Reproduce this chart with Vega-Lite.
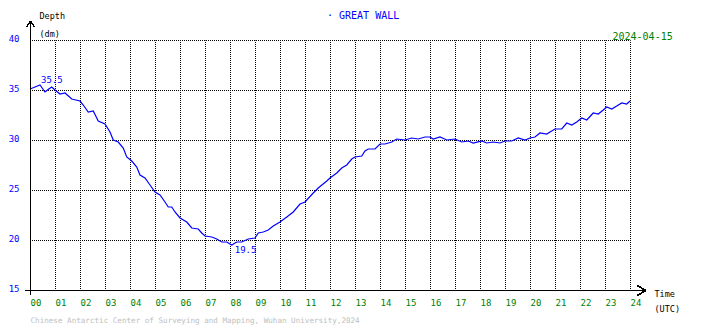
{
  "$schema": "https://vega.github.io/schema/vega-lite/v6.json",
  "width": 600,
  "height": 250,
  "autosize": {"type": "none"},
  "padding": {"left": 30, "top": 40, "right": 80, "bottom": 38},
  "background": "white",
  "config": {
    "view": {"stroke": null},
    "font": "DejaVu Sans Mono",
    "axis": {"labelFont": "DejaVu Sans Mono", "titleFont": "DejaVu Sans Mono"},
    "text": {"font": "DejaVu Sans Mono"}
  },
  "title": {
    "text": "· GREAT WALL",
    "anchor": "start",
    "frame": "group",
    "dx": 297,
    "offset": -10,
    "fontSize": 10,
    "fontWeight": "normal",
    "color": "#0000ff",
    "font": "DejaVu Sans Mono"
  },
  "data": {
    "values": [
      {"h": 0.0, "v": 35.1}, {"h": 0.2, "v": 35.3}, {"h": 0.4, "v": 35.5}, {"h": 0.6, "v": 34.8},
      {"h": 0.75, "v": 35.1}, {"h": 0.87, "v": 35.3}, {"h": 1.0, "v": 35.0}, {"h": 1.2, "v": 34.6},
      {"h": 1.4, "v": 34.7}, {"h": 1.67, "v": 34.1}, {"h": 2.0, "v": 33.9}, {"h": 2.13, "v": 33.5},
      {"h": 2.33, "v": 32.8}, {"h": 2.53, "v": 32.9}, {"h": 2.73, "v": 31.9}, {"h": 3.0, "v": 31.6},
      {"h": 3.2, "v": 30.8}, {"h": 3.33, "v": 30.0}, {"h": 3.53, "v": 29.8}, {"h": 3.73, "v": 29.2},
      {"h": 3.87, "v": 28.3}, {"h": 4.07, "v": 27.9}, {"h": 4.27, "v": 27.3}, {"h": 4.4, "v": 26.5},
      {"h": 4.6, "v": 26.2}, {"h": 4.8, "v": 25.5}, {"h": 5.0, "v": 24.8}, {"h": 5.2, "v": 24.5},
      {"h": 5.4, "v": 23.8}, {"h": 5.53, "v": 23.3}, {"h": 5.67, "v": 23.3}, {"h": 5.8, "v": 22.8},
      {"h": 6.0, "v": 22.2}, {"h": 6.27, "v": 21.8}, {"h": 6.47, "v": 21.2}, {"h": 6.73, "v": 21.1},
      {"h": 6.87, "v": 20.7}, {"h": 7.0, "v": 20.4}, {"h": 7.27, "v": 20.3}, {"h": 7.47, "v": 20.1},
      {"h": 7.67, "v": 19.8}, {"h": 7.87, "v": 19.8}, {"h": 8.07, "v": 19.5}, {"h": 8.27, "v": 19.8},
      {"h": 8.47, "v": 19.8}, {"h": 8.73, "v": 20.1}, {"h": 9.0, "v": 20.2}, {"h": 9.13, "v": 20.7},
      {"h": 9.33, "v": 20.8}, {"h": 9.53, "v": 21.0}, {"h": 9.73, "v": 21.4}, {"h": 10.0, "v": 21.8},
      {"h": 10.27, "v": 22.3}, {"h": 10.53, "v": 22.8}, {"h": 10.8, "v": 23.6}, {"h": 11.0, "v": 23.8},
      {"h": 11.33, "v": 24.7}, {"h": 11.53, "v": 25.2}, {"h": 11.87, "v": 25.9}, {"h": 12.0, "v": 26.2},
      {"h": 12.27, "v": 26.7}, {"h": 12.47, "v": 27.2}, {"h": 12.67, "v": 27.5}, {"h": 12.87, "v": 28.1},
      {"h": 13.0, "v": 28.3}, {"h": 13.27, "v": 28.4}, {"h": 13.4, "v": 28.9}, {"h": 13.53, "v": 29.1},
      {"h": 13.8, "v": 29.1}, {"h": 14.0, "v": 29.6}, {"h": 14.2, "v": 29.6}, {"h": 14.47, "v": 29.8},
      {"h": 14.67, "v": 30.1}, {"h": 15.0, "v": 30.0}, {"h": 15.27, "v": 30.2}, {"h": 15.53, "v": 30.1},
      {"h": 15.8, "v": 30.3}, {"h": 16.0, "v": 30.3}, {"h": 16.13, "v": 30.1}, {"h": 16.4, "v": 30.3},
      {"h": 16.67, "v": 30.0}, {"h": 17.0, "v": 30.1}, {"h": 17.27, "v": 29.8}, {"h": 17.53, "v": 29.9},
      {"h": 17.73, "v": 29.7}, {"h": 18.07, "v": 29.9}, {"h": 18.27, "v": 29.7}, {"h": 18.53, "v": 29.8},
      {"h": 18.8, "v": 29.7}, {"h": 19.0, "v": 29.9}, {"h": 19.27, "v": 29.9}, {"h": 19.53, "v": 30.2},
      {"h": 19.8, "v": 30.0}, {"h": 20.0, "v": 30.2}, {"h": 20.2, "v": 30.3}, {"h": 20.4, "v": 30.7},
      {"h": 20.67, "v": 30.6}, {"h": 20.8, "v": 30.8}, {"h": 21.0, "v": 31.1}, {"h": 21.27, "v": 31.1},
      {"h": 21.47, "v": 31.7}, {"h": 21.67, "v": 31.5}, {"h": 21.87, "v": 31.8}, {"h": 22.07, "v": 32.2},
      {"h": 22.27, "v": 32.0}, {"h": 22.53, "v": 32.7}, {"h": 22.73, "v": 32.6}, {"h": 22.93, "v": 33.0},
      {"h": 23.07, "v": 33.3}, {"h": 23.27, "v": 33.1}, {"h": 23.47, "v": 33.4}, {"h": 23.67, "v": 33.7},
      {"h": 23.87, "v": 33.6}, {"h": 24.0, "v": 33.9}
    ]
  },
  "resolve": {"axis": {"x": "independent", "y": "independent"}},
  "layer": [
    {
      "mark": {"type": "line", "color": "#0000ff", "strokeWidth": 1.2},
      "encoding": {
        "x": {
          "field": "h", "type": "quantitative",
          "scale": {"domain": [0, 24], "nice": false, "zero": false},
          "axis": {
            "orient": "bottom",
            "values": [0,1,2,3,4,5,6,7,8,9,10,11,12,13,14,15,16,17,18,19,20,21,22,23,24],
            "grid": true, "gridColor": "black", "gridDash": [1, 1], "gridDashOffset": 0.5, "gridWidth": 1, "gridOpacity": 1,
            "domain": false, "ticks": false,
            "labelColor": "#008000", "labelFontSize": 9, "labelAlign": "left", "labelBaseline": "top",
            "labelPadding": 8, "labelFlush": false, "labelOverlap": false,
            "labelExpr": "datum.value < 10 ? '0' + datum.value : '' + datum.value",
            "title": ["Time", "(UTC)"], "titleX": 624, "titleY": -1, "titleAlign": "left",
            "titleBaseline": "top", "titleAngle": 0, "titleFontSize": 8.5, "titleFontWeight": "normal",
            "titleColor": "black", "titleLineHeight": 15
          }
        },
        "y": {
          "field": "v", "type": "quantitative",
          "scale": {"domain": [15, 40], "nice": false, "zero": false},
          "axis": {
            "orient": "left",
            "values": [15, 20, 25, 30, 35, 40],
            "grid": true, "gridColor": "black", "gridDash": [1, 1], "gridDashOffset": 0.5, "gridWidth": 1, "gridOpacity": 1,
            "domain": false, "ticks": false,
            "labelColor": "#0000ff", "labelFontSize": 9, "labelPadding": 11, "labelBaseline": "alphabetic",
            "labelOffset": 1, "labelFlush": false, "labelOverlap": false,
            "title": ["Depth", "(dm)"], "titleX": 9, "titleY": -29, "titleAlign": "left",
            "titleBaseline": "top", "titleAngle": 0, "titleFontSize": 8.5, "titleFontWeight": "normal",
            "titleColor": "black", "titleLineHeight": 18
          }
        }
      }
    },
    {
      "mark": {"type": "rule", "color": "black", "strokeWidth": 1, "yOffset": 0.5},
      "encoding": {
        "x": {"datum": -0.2, "axis": null},
        "x2": {"datum": 24.64},
        "y": {"datum": 15, "axis": null}
      }
    },
    {
      "mark": {"type": "rule", "color": "black", "strokeWidth": 1, "xOffset": 0.5},
      "encoding": {
        "x": {
          "datum": 0,
          "axis": {
            "orient": "top", "labels": false, "ticks": false, "domain": false, "grid": false,
            "title": "Chinese Antarctic Center of Surveying and Mapping, Wuhan University,2024",
            "titleX": 0, "titleY": 276, "titleAlign": "left", "titleBaseline": "top", "titleAngle": 0,
            "titleFontSize": 7.6, "titleFontWeight": "normal", "titleColor": "#c0c0c0"
          }
        },
        "y": {
          "datum": 14.5,
          "axis": {
            "orient": "right", "labels": false, "ticks": false, "domain": false, "grid": false,
            "title": "2024-04-15",
            "titleX": -18, "titleY": -9, "titleAlign": "left", "titleBaseline": "top", "titleAngle": 0,
            "titleFontSize": 10, "titleFontWeight": "normal", "titleColor": "#008000"
          }
        },
        "y2": {"datum": 41.9}
      }
    },
    {
      "mark": {"type": "point", "shape": "M-0.8,1.2L0,0L0.8,1.2", "size": 100, "filled": false, "stroke": "black", "strokeWidth": 1, "opacity": 1, "xOffset": 0.5},
      "encoding": {
        "x": {"datum": 0, "axis": null},
        "y": {"datum": 41.9, "axis": null}
      }
    },
    {
      "mark": {"type": "point", "shape": "M-1.8,-1L0,0L-1.8,1", "size": 100, "filled": false, "stroke": "black", "strokeWidth": 1, "opacity": 1, "yOffset": 0.5},
      "encoding": {
        "x": {"datum": 24.64, "axis": null},
        "y": {"datum": 15, "axis": null}
      }
    },
    {
      "transform": [
        {"joinaggregate": [{"op": "max", "field": "v", "as": "mx"}]},
        {"filter": "datum.v === datum.mx"}
      ],
      "mark": {"type": "text", "align": "left", "baseline": "alphabetic", "dx": 1, "dy": -2, "fontSize": 9, "color": "#0000ff"},
      "encoding": {
        "x": {"field": "h", "type": "quantitative", "axis": null},
        "y": {"field": "v", "type": "quantitative", "axis": null},
        "text": {"field": "v", "type": "quantitative", "format": ".1f"}
      }
    },
    {
      "transform": [
        {"joinaggregate": [{"op": "min", "field": "v", "as": "mn"}]},
        {"filter": "datum.v === datum.mn"}
      ],
      "mark": {"type": "text", "align": "left", "baseline": "alphabetic", "dx": 3, "dy": 8, "fontSize": 9, "color": "#0000ff"},
      "encoding": {
        "x": {"field": "h", "type": "quantitative", "axis": null},
        "y": {"field": "v", "type": "quantitative", "axis": null},
        "text": {"field": "v", "type": "quantitative", "format": ".1f"}
      }
    }
  ]
}
